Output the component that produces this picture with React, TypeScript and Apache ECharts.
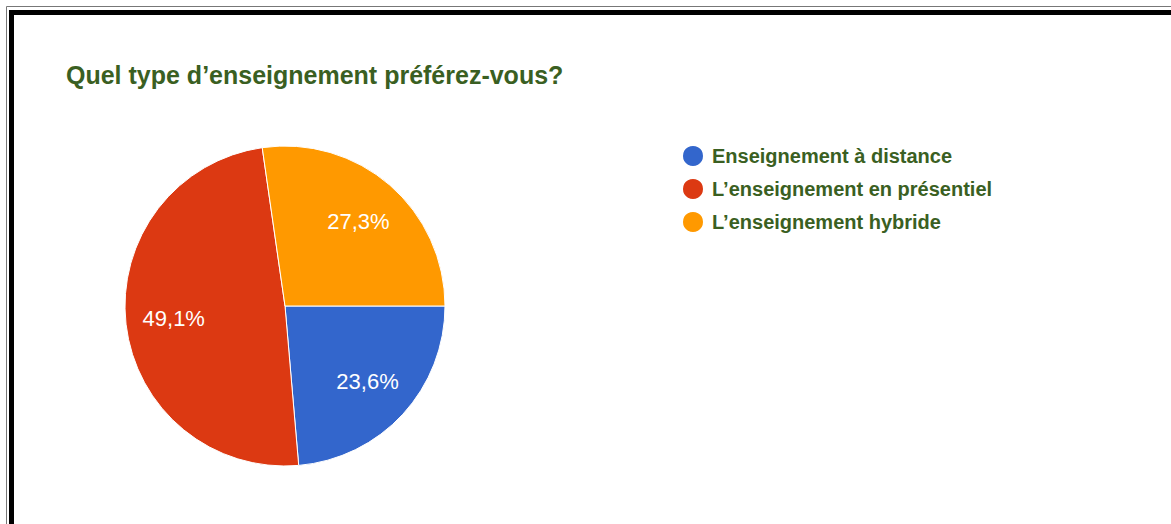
import React, { useEffect, useRef } from "react";
import * as echarts from "echarts";

const titleText = "Quel type d’enseignement préférez-vous?";
const categories = [
  "Enseignement à distance",
  "L’enseignement en présentiel",
  "L’enseignement hybride",
];
const counts = [13, 27, 15];
const colors = ["#3366cc", "#dc3912", "#ff9900"];

export default function App() {
  const ref = useRef<HTMLDivElement>(null);
  useEffect(() => {
    document.body.style.margin = "0";
    const chart = echarts.init(ref.current!, undefined, { renderer: "svg" });
    const total = counts.reduce((a, b) => a + b, 0);
    const data = categories.map((name, i) => ({
      name,
      value: counts[i],
      itemStyle: { color: colors[i] },
    }));
    const fmt = (p: any) =>
      ((p.value / total) * 100).toFixed(1).replace(".", ",") + "%";
    chart.setOption({
      animation: false,
      backgroundColor: "#ffffff",
      title: {
        text: titleText,
        left: 61,
        top: 57,
        textStyle: {
          fontFamily: "Liberation Sans, Arial, sans-serif",
          fontSize: 25,
          fontWeight: "bold",
          color: "#3a5f22",
        },
      },
      legend: {
        orient: "vertical",
        left: 676,
        top: 139,
        icon: "circle",
        itemWidth: 22,
        itemHeight: 22,
        itemGap: 9,
        data: categories,
        textStyle: {
          fontFamily: "Liberation Sans, Arial, sans-serif",
          fontSize: 20,
          fontWeight: "bold",
          color: "#3a5f22",
          lineHeight: 22,
          padding: [0, 0, 0, 3],
        },
      },
      graphic: [
        {
          type: "rect",
          shape: { x: 6.5, y: 6.5, width: 1300, height: 700 },
          style: { fill: "none", stroke: "#777777", lineWidth: 1 },
          silent: true,
        },
        {
          type: "rect",
          shape: { x: 11.5, y: 12.5, width: 1300, height: 700 },
          style: { fill: "none", stroke: "#000000", lineWidth: 5 },
          silent: true,
        },
      ],
      series: [
        {
          type: "pie",
          center: [285, 306],
          radius: [0, 160],
          startAngle: 0,
          clockwise: true,
          data,
          label: { show: false },
          labelLine: { show: false },
          itemStyle: { borderColor: "#ffffff", borderWidth: 1 },
          emphasis: { disabled: true },
        },
        {
          type: "pie",
          center: [285, 306],
          radius: [0, 218],
          startAngle: 0,
          clockwise: true,
          silent: true,
          data: categories.map((name, i) => ({ name, value: counts[i] })),
          itemStyle: { color: "rgba(0,0,0,0)" },
          label: {
            show: true,
            position: "inside",
            formatter: fmt,
            color: "#ffffff",
            fontFamily: "Liberation Sans, Arial, sans-serif",
            fontSize: 22,
            textBorderWidth: 0,
          },
          labelLine: { show: false },
          emphasis: { disabled: true },
          tooltip: { show: false },
        },
      ],
    });
    return () => chart.dispose();
  }, []);
  return (
    <div
      ref={ref}
      style={{ position: "absolute", left: 0, top: 0, width: 1171, height: 524 }}
    />
  );
}
